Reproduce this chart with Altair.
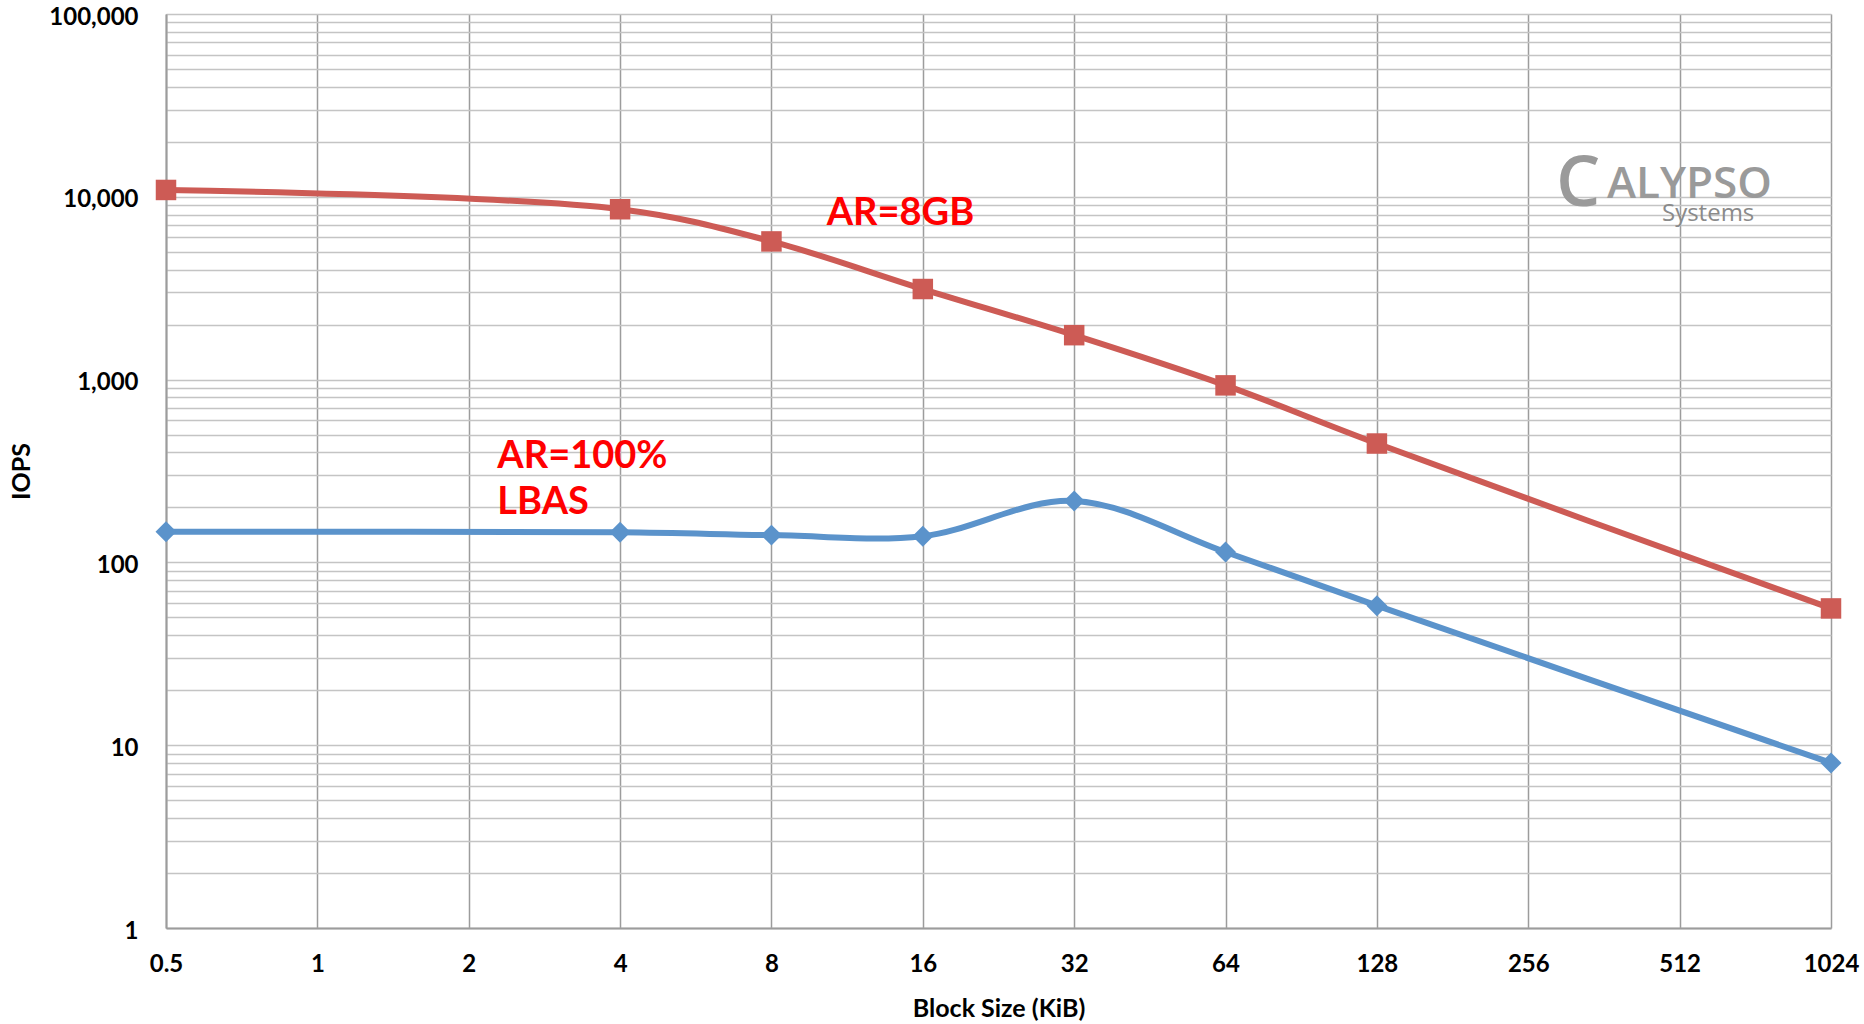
import altair as alt
import pandas as pd

block_sizes = [0.5, 4, 8, 16, 32, 64, 128, 1024]
iops_8gb = [10900, 8550, 5700, 3130, 1750, 930, 447, 56]
iops_100 = [147, 146, 141, 139, 217, 114, 58, 8]
series_names = ["AR=8GB", "AR=100% LBAS"]

x_ticks = [0.5, 1, 2, 4, 8, 16, 32, 64, 128, 256, 512, 1024]
y_major = [1, 10, 100, 1000, 10000, 100000]
y_grid = [k * 10 ** d for d in range(5) for k in range(1, 10)] + [100000]

rows = []
for b, v in zip(block_sizes, iops_8gb):
    rows.append({"bs": b, "iops": v, "series": series_names[0]})
for b, v in zip(block_sizes, iops_100):
    rows.append({"bs": b, "iops": v, "series": series_names[1]})
df = pd.DataFrame(rows)

ann = pd.DataFrame({
    "bs": [10.3, 2.28, 2.28],
    "iops": [8050, 378, 211],
    "text": ["AR=8GB", "AR=100%", "LBAS"],
})

FONT = "Lato"
W, H = 1665, 914

xscale = alt.Scale(type="log", base=2, domain=[0.5, 1024], nice=False)
yscale = alt.Scale(type="log", domain=[1, 100000], nice=False)
colors = alt.Scale(domain=series_names, range=["#CD5B55", "#5B93CB"])
shapes = alt.Scale(domain=series_names, range=["square", "diamond"])
sizes = alt.Scale(domain=series_names, range=[420, 440])

x_enc = alt.X("bs:Q", scale=xscale,
              axis=alt.Axis(values=x_ticks, format="~g", title="Block Size (KiB)",
                            grid=True, gridColor="#9c9c9c", gridWidth=1.5,
                            domainColor="#9c9c9c", domainWidth=2, ticks=False,
                            labelFont=FONT, labelFontSize=24, labelFontWeight="bold",
                            labelColor="black", labelPadding=24, labelFlush=False,
                            titleFont=FONT, titleFontSize=25, titleFontWeight="bold",
                            titleColor="black", titleY=80, titleBaseline="middle"))
y_enc = alt.Y("iops:Q", scale=yscale,
              axis=alt.Axis(values=y_grid,
                            labelExpr="indexof([1,10,100,1000,10000,100000], datum.value) >= 0 ? format(datum.value, ',') : ''",
                            title="IOPS", grid=True, gridColor="#c4c4c4", gridWidth=1.5,
                            domainColor="#9c9c9c", domainWidth=2, ticks=False,
                            labelFont=FONT, labelFontSize=24, labelFontWeight="bold",
                            labelColor="black", labelPadding=28, labelFlush=False,
                            labelOffset=3,
                            titleFont=FONT, titleFontSize=25, titleFontWeight="bold",
                            titleColor="black", titleAngle=270, titleX=-145, titleY=H / 2,
                            titleAlign="center", titleBaseline="middle"))

base = alt.Chart(df)
lines = base.mark_line(strokeWidth=6, interpolate="catmull-rom").encode(
    x=x_enc, y=y_enc,
    color=alt.Color("series:N", scale=colors, legend=None),
    detail="series:N",
)
points = base.mark_point(filled=True, opacity=1).encode(
    x="bs:Q", y="iops:Q",
    color=alt.Color("series:N", scale=colors, legend=None),
    shape=alt.Shape("series:N", scale=shapes, legend=None),
    size=alt.Size("series:N", scale=sizes, legend=None),
)

texts = alt.Chart(ann).mark_text(font=FONT, fontSize=38, fontWeight="bold",
                                  color="#FF0000", align="left", baseline="middle").encode(
    x="bs:Q", y="iops:Q", text="text:N")

logo_c = alt.Chart(pd.DataFrame({"t": ["C"]})).mark_text(
    font="Open Sans", fontSize=70, fontWeight=600, color="#9a9a9a",
    align="left", baseline="alphabetic").encode(
    text="t:N", x=alt.value(1390), y=alt.value(192))
logo_a = alt.Chart(pd.DataFrame({"t": ["ALYPSO"]})).mark_text(
    font="Open Sans", fontSize=44, fontWeight=600, color="#9a9a9a",
    align="left", baseline="alphabetic").encode(
    text="t:N", x=alt.value(1441), y=alt.value(184))
logo_s = alt.Chart(pd.DataFrame({"t": ["Systems"]})).mark_text(
    font="Open Sans", fontSize=24, color="#8a8a8a",
    align="left", baseline="alphabetic").encode(
    text="t:N", x=alt.value(1496), y=alt.value(207))

chart = alt.layer(lines, points, texts, logo_c, logo_a, logo_s).properties(
    width=W, height=H,
    padding={"left": 166, "top": 14, "right": 33, "bottom": 96},
    autosize=alt.AutoSizeParams(type="none"),
).configure_view(stroke="black", strokeWidth=2).configure(background="white")

chart.save("out.html", embed_options={"renderer": "svg", "actions": False})
